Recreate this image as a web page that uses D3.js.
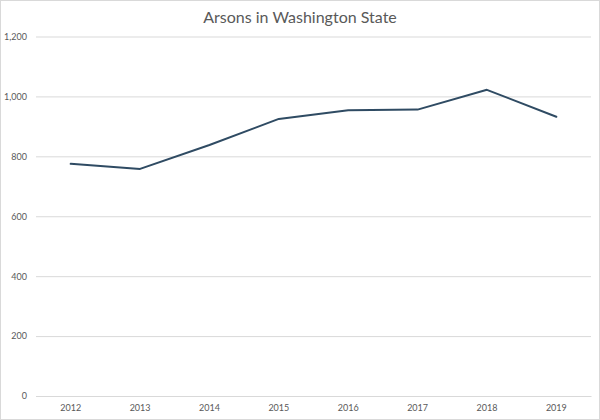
<!DOCTYPE html>
<html><head><meta charset="utf-8">
<script src="https://cdn.jsdelivr.net/npm/d3@7"></script>
<style>body{margin:0;background:#fff}svg{display:block}</style>
</head><body>
<script>
const years = ["2012","2013","2014","2015","2016","2017","2018","2019"];
const arsons = [775, 758, 838, 925, 954, 956, 1022, 932];
const yTicks = [0, 200, 400, 600, 800, 1000, 1200];
const title = "Arsons in Washington State";

const W = 600, H = 420;
const m = {left: 36, right: 9, top: 36.5, bottom: 24};
const svg = d3.select("body").append("svg").attr("width", W).attr("height", H);
svg.append("rect").attr("x",0.5).attr("y",0.5).attr("width",W-1).attr("height",H-1)
  .attr("fill","#fff").attr("stroke","#d9d9d9");

const x = d3.scaleBand().domain(years).range([m.left, W - m.right]);
const y = d3.scaleLinear().domain([0, 1200]).range([H - m.bottom, m.top]);

const font = "Lato, 'Open Sans', sans-serif";
svg.append("text").attr("x", 300).attr("y", 23).attr("text-anchor","middle")
  .attr("font-family", font).attr("font-size", 16).attr("fill","#595959").text(title);

const ya = svg.append("g").attr("transform", `translate(${m.left},0)`)
  .call(d3.axisLeft(y).tickValues(yTicks).tickSize(-(W - m.left - m.right)).tickPadding(9).tickFormat(d3.format(",")));
ya.select(".domain").remove();
ya.selectAll("line").attr("stroke","#d9d9d9");
ya.selectAll("text").attr("font-family", font).attr("font-size", 9).attr("fill","#595959");

const xa = svg.append("g").attr("transform", `translate(0,${H - m.bottom})`)
  .call(d3.axisBottom(x).tickSize(0).tickPadding(9));
xa.select(".domain").attr("stroke","#d9d9d9");
xa.selectAll("text").attr("font-family", font).attr("font-size", 9).attr("fill","#595959");

const line = d3.line().x((d,i) => x(years[i]) + x.bandwidth()/2).y(d => y(d));
svg.append("path").datum(arsons).attr("d", line).attr("fill","none")
  .attr("stroke","#2f4b63").attr("stroke-width",2).attr("stroke-linejoin","round").attr("stroke-linecap","round");
</script>
</body></html>
